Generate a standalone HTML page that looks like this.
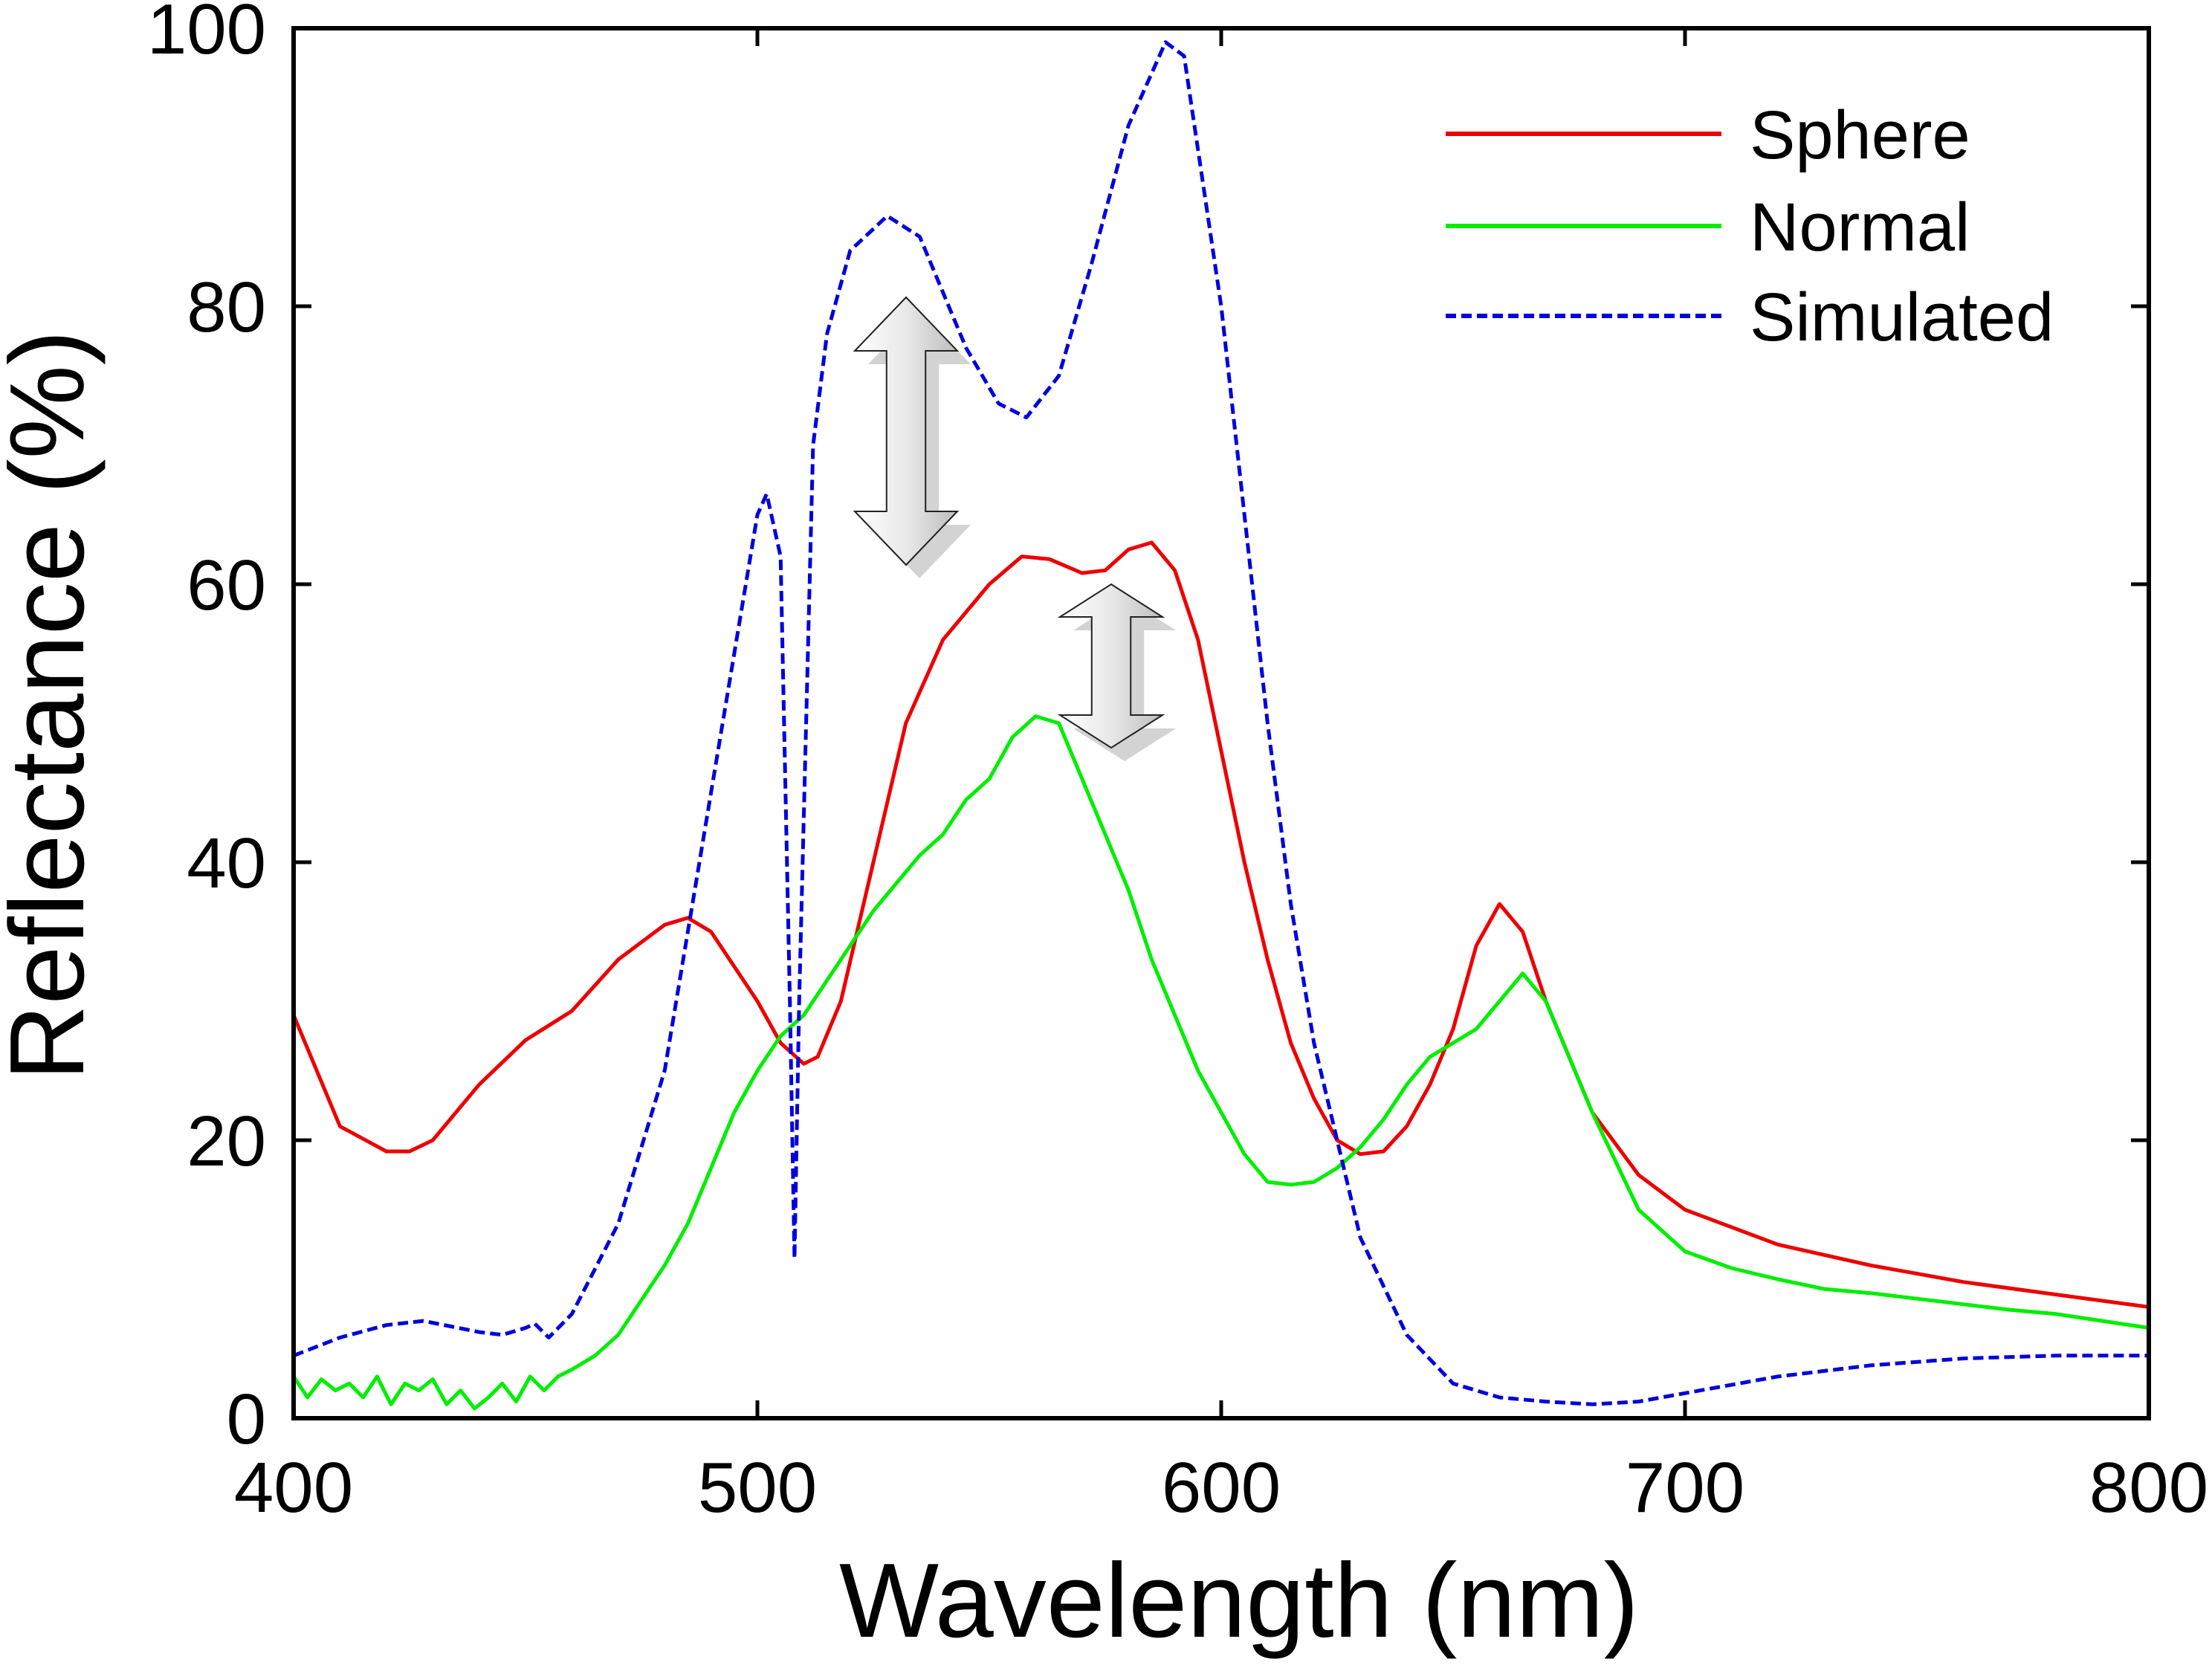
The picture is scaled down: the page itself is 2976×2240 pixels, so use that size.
<!DOCTYPE html>
<html><head><meta charset="utf-8"><style>
html,body{margin:0;padding:0;background:#fff;}
svg{display:block;font-family:"Liberation Sans",Arial,sans-serif;}
</style></head><body>
<svg id="chart" width="2976" height="2240" viewBox="0 0 2976 2240">
<defs>
<linearGradient id="ag" x1="0" x2="1" y1="0" y2="0">
<stop offset="0" stop-color="#ffffff"/><stop offset="0.5" stop-color="#e8e8e8"/><stop offset="1" stop-color="#bdbdbd"/>
</linearGradient>
</defs>
<g id="marks"></g>
<g id="axes"></g>
</svg>
<script>
const xTicks=[400,500,600,700,800];
const yTicks=[0,20,40,60,80,100];
const sphereX=[400,405,410,420,425,430,440,450,460,470,480,485,490,500,505,510,513,518,525,532,540,550,557,563,570,575,580,585,590,595,600,605,610,615,620,625,630,635,640,645,650,655,660,665,670,680,690,700,720,740,760,780,800];
const sphereY=[29,25,21,19.2,19.2,20,24,27.2,29.3,33,35.5,36,35,30,27,25.5,26,30,40,50,56,60,62,61.8,60.8,61,62.5,63,61,56,48,40,33,27,23,20,19,19.2,21,24,28,34,37,35,30,22,17.5,15,12.5,11,9.8,8.9,8];
const normalX=[400,403,406,409,412,415,418,421,424,427,430,433,436,439,442,445,448,451,454,457,460,465,470,475,480,485,490,495,500,505,510,515,520,525,530,535,540,545,550,555,560,565,570,575,580,585,590,595,600,605,610,615,620,625,630,635,640,645,650,655,660,665,670,675,680,690,700,710,720,730,740,750,760,770,780,790,800];
const normalY=[3,1.5,2.8,2,2.5,1.5,3,1,2.5,2,2.8,1,2,0.7,1.5,2.5,1.2,3,2,3,3.5,4.5,6,8.5,11,14,18,22,25,27.5,29,31.5,34,36.5,38.5,40.5,42,44.5,46,49,50.5,50,46,42,38,33,29,25,22,19,17,16.8,17,18,19.5,21.5,24,26,27,28,30,32,30,26,22,15,12,10.8,10,9.3,9,8.6,8.2,7.8,7.5,7,6.5];
const simX=[400,410,420,428,440,445,450,452,455,460,470,480,490,495,500,502,505,507,508,509,512,515,520,528,535,545,552,558,565,572,580,588,592,600,605,610,615,620,625,630,640,650,660,670,680,690,700,720,740,760,780,800];
const simY=[4.5,5.8,6.7,7,6.2,6,6.5,6.8,5.8,7.5,14,25,45,55,65,66.5,62,30,11.5,30,70,78,84,86.5,85,77,73,72,75,83,93,99,98,80,65,50,37,27,20,13,6,2.5,1.5,1.2,1,1.2,1.8,3,3.8,4.3,4.5,4.5];

const L=395,R=2891,T=38,B=1908;
const NS="http://www.w3.org/2000/svg";
function sx(v){return L+(v-400)/400*(R-L);}
function sy(v){return B-(v/100)*(B-T);}
function mk(tag,attrs,parent){const e=document.createElementNS(NS,tag);for(const k in attrs)e.setAttribute(k,attrs[k]);parent.appendChild(e);return e;}
const marks=document.getElementById('marks'), axes=document.getElementById('axes');

// arrows (annotations)
function dArrow(x0,y0,x1,y1,name){
  const w=x1-x0, cx=(x0+x1)/2, sw=w*0.19, hh=(y1-y0)*0.2;
  const pts=[[cx,y0],[x1,y0+hh],[cx+sw,y0+hh],[cx+sw,y1-hh],[x1,y1-hh],[cx,y1],[x0,y1-hh],[cx-sw,y1-hh],[cx-sw,y0+hh],[x0,y0+hh]];
  const p=pts.map(q=>q.join(',')).join(' ');
  const sh=mk('polygon',{points:pts.map(q=>(q[0]+18)+','+(q[1]+18)).join(' '),fill:'#c8c8c8',opacity:'0.8'},marks);
  
  
  const a=mk('polygon',{points:p,fill:'url(#ag)',stroke:'#222','stroke-width':2},marks);
  
  
}
dArrow(1150,400,1288,760,'double-arrow-simulated');
dArrow(1426,786,1564,1006,'double-arrow-sphere');

function line(xs,ys,color,dash,name){
  const d=xs.map((x,i)=>(i?'L':'M')+sx(x).toFixed(1)+','+sy(ys[i]).toFixed(1)).join('');
  const p=mk('path',{d:d,fill:'none',stroke:color,'stroke-width':5,'stroke-linejoin':'round'},marks);
  if(dash)p.setAttribute('stroke-dasharray',dash);
  
  
}
line(sphereX,sphereY,'#ee0000',null,'sphere-line');
line(normalX,normalY,'#00ee00',null,'normal-line');
line(simX,simY,'#0000dd','14,7','simulated-line');

// frame
const fr=mk('rect',{x:L,y:T,width:R-L,height:B-T,fill:'none',stroke:'#000','stroke-width':6},axes);


xTicks.forEach(v=>{
  const x=sx(v);
  mk('line',{x1:x,y1:B,x2:x,y2:B-24,stroke:'#000','stroke-width':5},axes);
  mk('line',{x1:x,y1:T,x2:x,y2:T+24,stroke:'#000','stroke-width':5},axes);
  const t=mk('text',{x:x,y:2034,'font-size':96,'text-anchor':'middle',fill:'#000'},axes);
  t.textContent=v;
  
  
});
yTicks.forEach(v=>{
  const y=sy(v);
  mk('line',{x1:L,y1:y,x2:L+24,y2:y,stroke:'#000','stroke-width':5},axes);
  mk('line',{x1:R,y1:y,x2:R-24,y2:y,stroke:'#000','stroke-width':5},axes);
  const t=mk('text',{x:358,y:y+34,'font-size':96,'text-anchor':'end',fill:'#000'},axes);
  t.textContent=v;
  
  
});
const xt=mk('text',{x:1667,y:2202,'font-size':142,'text-anchor':'middle',fill:'#000'},axes);
xt.textContent='Wavelength (nm)';


const yt=mk('text',{x:0,y:0,'font-size':142,'text-anchor':'middle',fill:'#000',transform:'translate(112,949) rotate(-90)'},axes);
yt.textContent='Reflectance (%)';



// legend
const leg=[['Sphere','#ee0000',null,180],['Normal','#00ee00',null,304],['Simulated','#0000dd','14,7',425]];
leg.forEach(l=>{
  const ln=mk('line',{x1:1945,y1:l[3],x2:2316,y2:l[3],stroke:l[1],'stroke-width':6},axes);
  if(l[2])ln.setAttribute('stroke-dasharray',l[2]);
  
  
  const t=mk('text',{x:2354,y:l[3]+33,'font-size':92,fill:'#000'},axes);
  t.textContent=l[0];
  
  
});
</script>
</body></html>
